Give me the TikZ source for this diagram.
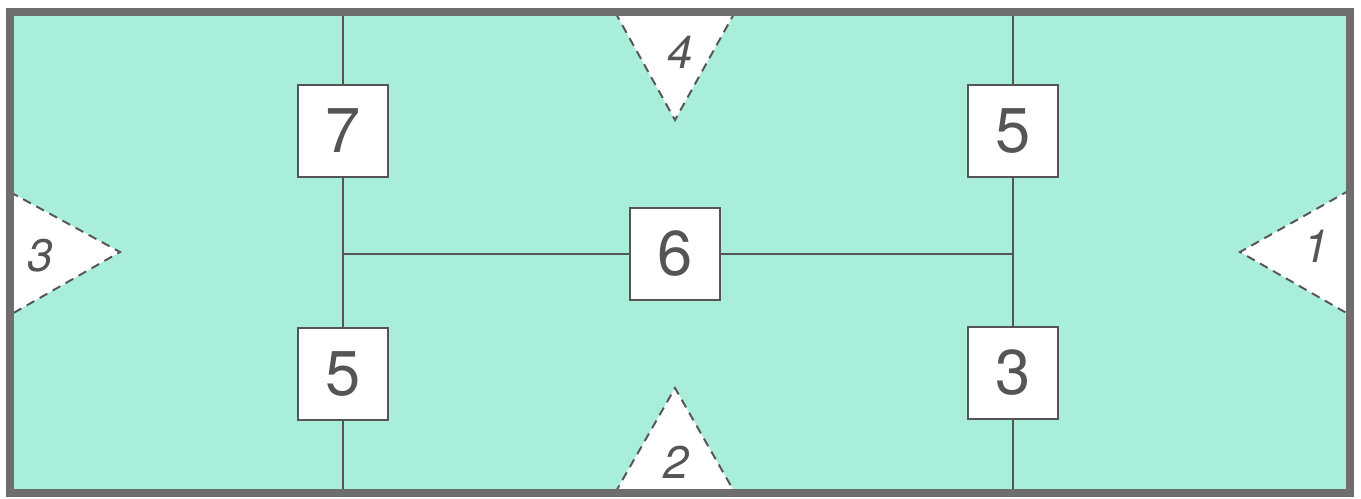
\documentclass[tikz,border=0pt]{standalone}
\usepackage{fontspec}
\setsansfont{TeX Gyre Heros}
\usepackage{xcolor}
\definecolor{mintfill}{HTML}{A8EEDA}
\definecolor{framegray}{HTML}{6E6E6E}
\definecolor{inkgray}{HTML}{555555}

\begin{document}
\begin{tikzpicture}[
    x=0.02cm, y=-0.02cm,
    numbox/.style={rectangle, draw=inkgray, line width=1.2pt, fill=white, minimum width=1.8cm, minimum height=1.84cm, inner sep=0pt, font=\sffamily\fontsize{36}{36}\selectfont, text=inkgray},
    tri/.style={draw=inkgray, fill=white, dashed, dash pattern=on 5pt off 3.5pt, line width=1.1pt},
    trilabel/.style={font=\sffamily\itshape\fontsize{26}{26}\selectfont, text=inkgray, inner sep=0pt},
    wire/.style={draw=inkgray, line width=1.1pt}
]
\useasboundingbox (0,0) rectangle (1361,498);
\fill[mintfill] (10,12) rectangle (1350,493);

% corner points of the grid
\coordinate (topL) at (343,12);
\coordinate (topR) at (1013,12);
\coordinate (botL) at (343,493);
\coordinate (botR) at (1013,493);
\coordinate (midL) at (343,254);
\coordinate (midR) at (1013,254);

% dashed triangles
\draw[tri] (615,12) -- (675,120) -- (735,12);
\draw[tri] (615,493) -- (675,388) -- (735,493);
\draw[tri] (10,192) -- (120,252) -- (10,315);
\draw[tri] (1350,190) -- (1240,252) -- (1350,315);
\node[trilabel] (t4) at (680,52) {4};
\node[trilabel] (t2) at (676,462) {2};
\node[trilabel] (t3) at (40,256) {3};
\node[trilabel] (t1) at (1316,246) {1};

% boxes
\node[numbox] (b7) at (343,131) {7};
\node[numbox] (b5top) at (1013,131) {5};
\node[numbox] (b6) at (675,254) {6};
\node[numbox] (b5bot) at (343,374) {5};
\node[numbox] (b3) at (1013,373) {3};

% connectors
\draw[wire] (topL) -- (b7);
\draw[wire] (b7) -- (b5bot);
\draw[wire] (b5bot) -- (botL);
\draw[wire] (topR) -- (b5top);
\draw[wire] (b5top) -- (b3);
\draw[wire] (b3) -- (botR);
\draw[wire] (midL) -- (b6);
\draw[wire] (b6) -- (midR);

% outer frame
\draw[framegray, line width=5pt] (10,12) rectangle (1350,493);
\end{tikzpicture}
\end{document}
